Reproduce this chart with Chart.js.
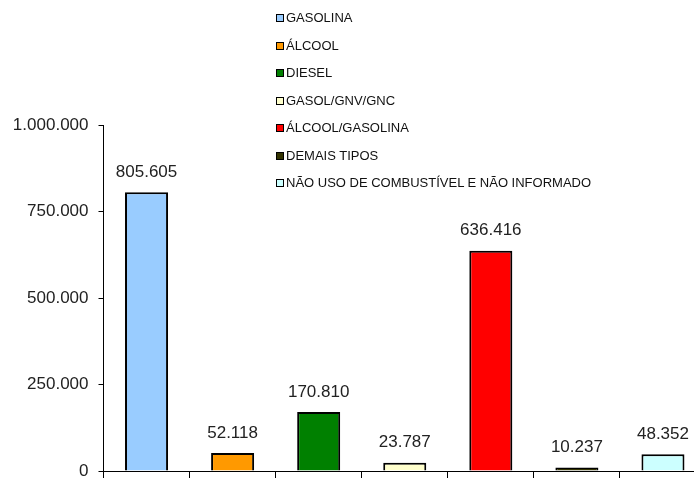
<!DOCTYPE html>
<html>
<head>
<meta charset="utf-8">
<script src="https://cdn.jsdelivr.net/npm/chart.js@4/dist/chart.umd.min.js"></script>
<style>
  body { margin: 0; background: #fff; overflow: hidden; }
  #wrap { position: relative; width: 694px; height: 478px; overflow: hidden; }
  #legenda { position: absolute; left: 276px; top: 4px; font: 13px "Liberation Sans", Arial, sans-serif; color: #111; }
  #legenda div { height: 27.5px; line-height: 27.5px; white-space: nowrap; }
  #legenda span { display: inline-block; width: 6px; height: 6px; border: 1px solid #000; margin-right: 2px; vertical-align: 0px; }
</style>
</head>
<body>
<div id="wrap">
  <canvas id="frota" width="720" height="478"></canvas>
  <div id="legenda"></div>
</div>
<script>
// tipos de combustivel e quantidade de veiculos
const categorias = ["GASOLINA", "ÁLCOOL", "DIESEL", "GASOL/GNV/GNC", "ÁLCOOL/GASOLINA", "DEMAIS TIPOS", "NÃO USO DE COMBUSTÍVEL E NÃO INFORMADO"];
const valores = [805605, 52118, 170810, 23787, 636416, 10237, 48352];
const ticksY = [0, 250000, 500000, 750000, 1000000];
const cores = ["#99CCFF", "#FF9900", "#008000", "#FFFFCC", "#FF0000", "#333300", "#CCFFFF"];

function fmt(n) {
    return String(n).replace(/\B(?=(\d{3})+(?!\d))/g, '.');
}

// legenda em lista vertical
const leg = document.getElementById('legenda');
categorias.forEach(function(c, i) {
    const d = document.createElement('div');
    const s = document.createElement('span');
    s.style.background = cores[i];
    d.appendChild(s);
    d.appendChild(document.createTextNode(c));
    leg.appendChild(d);
});

const rotulos = {
    id: 'rotulos',
    afterDatasetsDraw(chart) {
        const ctx = chart.ctx;
        const meta = chart.getDatasetMeta(0);
        ctx.save();
        ctx.font = '17px "Liberation Sans", Arial, sans-serif';
        ctx.fillStyle = '#222';
        ctx.textAlign = 'center';
        ctx.textBaseline = 'middle';
        meta.data.forEach(function(bar, i) {
            ctx.fillText(fmt(valores[i]), bar.x, bar.y - 20);
        });
        ctx.restore();
    }
};

var grafica = document.getElementById("frota");
var chart = new Chart(grafica, {
    type: "bar",
    data: {
        labels: categorias,
        datasets: [{
            data: valores,
            backgroundColor: cores,
            borderColor: "#000",
            borderWidth: 2,
            categoryPercentage: 1,
            barPercentage: 0.5
        }]
    },
    options: {
        responsive: false,
        animation: false,
        devicePixelRatio: 1,
        layout: { padding: { top: 125, right: 14, bottom: 0, left: 0 } },
        plugins: { legend: { display: false }, tooltip: { enabled: false } },
        scales: {
            x: {
                grid: { display: true, drawOnChartArea: false, drawTicks: true, tickLength: 7, color: "#000" },
                border: { color: "#000", width: 1 },
                ticks: { display: false },
                afterFit: function(s) { s.height = 7; s.paddingLeft = 0; s.paddingRight = 0; }
            },
            y: {
                min: 0,
                max: 1000000,
                afterBuildTicks: function(s) { s.ticks = ticksY.map(v => ({ value: v })); },
                grid: { display: true, drawOnChartArea: false, drawTicks: true, tickLength: 5, color: "#000" },
                border: { color: "#000", width: 1 },
                ticks: {
                    padding: 10,
                    color: "#222",
                    font: { family: '"Liberation Sans", Arial, sans-serif', size: 17 },
                    callback: function(v) { return fmt(v); }
                },
                afterFit: function(s) { s.width = 103.5; s.paddingTop = 0; s.paddingBottom = 0; }
            }
        }
    },
    plugins: [rotulos]
});
</script>
</body>
</html>
